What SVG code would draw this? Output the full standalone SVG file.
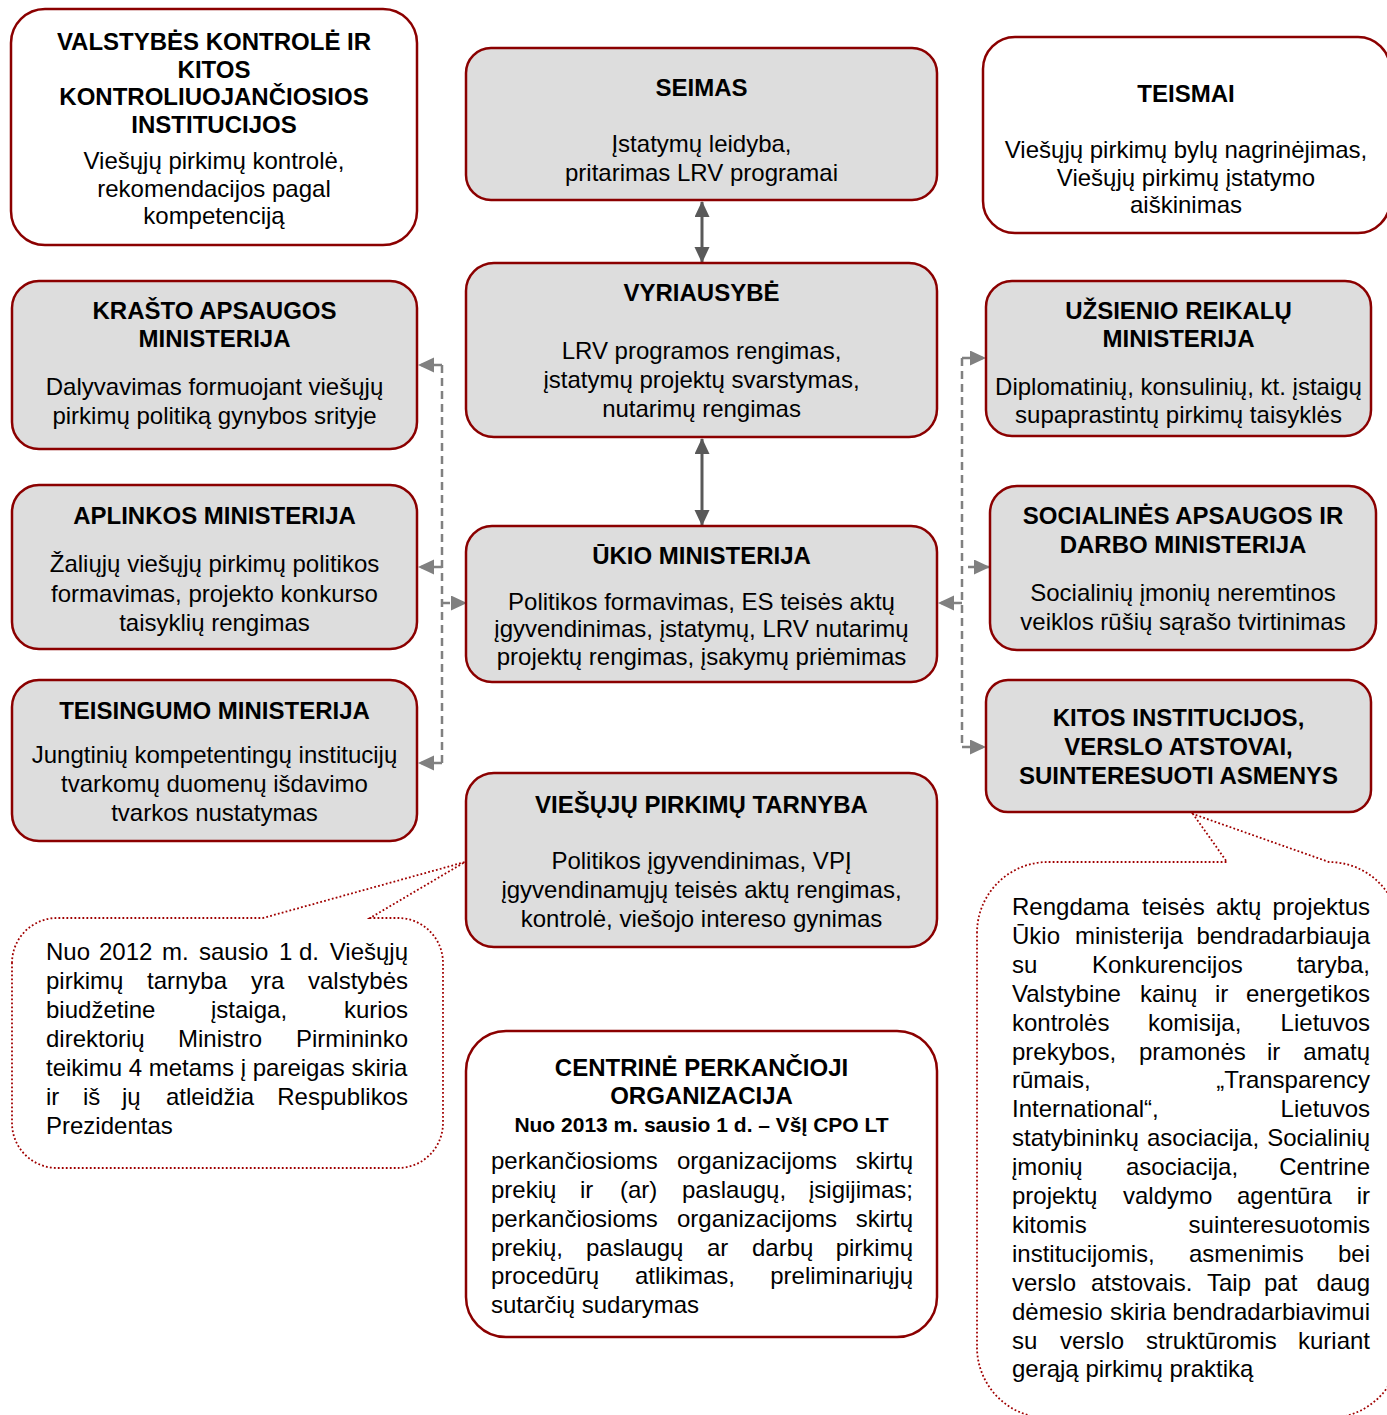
<svg xmlns="http://www.w3.org/2000/svg" width="1387" height="1415" viewBox="0 0 1387 1415">
<style>
.box{fill:#DDDDDD;stroke:#8B0000;stroke-width:2.5}
.wbox{fill:#FFFFFF;stroke:#8B0000;stroke-width:2.5}
.call{fill:#FFFFFF;stroke:#A00000;stroke-width:1.8;stroke-dasharray:1.8 2.2}
text{font-family:"Liberation Sans",Arial,sans-serif;font-size:24px;fill:#000}
.t{font-weight:bold;text-anchor:middle}
.d{text-anchor:middle}
.j{text-anchor:start}
.e{text-anchor:end}
.s21{font-size:21px}
.dash{stroke:#808080;stroke-width:2.5;stroke-dasharray:8 5;fill:none}
.solid{stroke:#595959;stroke-width:3;fill:none}
</style>
<defs>
<marker id="ag" markerUnits="userSpaceOnUse" markerWidth="18" markerHeight="18" refX="15" refY="7.5" orient="auto" viewBox="0 0 18 18">
<path d="M0,0 L16,7.5 L0,15 Z" fill="#808080"/>
</marker>
<marker id="as" markerUnits="userSpaceOnUse" markerWidth="18" markerHeight="18" refX="15" refY="7.5" orient="auto-start-reverse" viewBox="0 0 18 18">
<path d="M0,0 L16,7.5 L0,15 Z" fill="#595959"/>
</marker>
</defs>

<g id="connectors">
<path class="solid" d="M702,202 L702,262" marker-start="url(#as)" marker-end="url(#as)"/>
<path class="solid" d="M702,439 L702,525" marker-start="url(#as)" marker-end="url(#as)"/>
<path class="dash" d="M442,365 L442,763"/>
<path class="dash" d="M442,365 L419,365" marker-end="url(#ag)"/>
<path class="dash" d="M442,567 L419,567" marker-end="url(#ag)"/>
<path class="dash" d="M442,763 L419,763" marker-end="url(#ag)"/>
<path class="dash" d="M442,603 L466,603" marker-end="url(#ag)"/>
<path class="dash" d="M962,358 L962,747"/>
<path class="dash" d="M962,358 L985,358" marker-end="url(#ag)"/>
<path class="dash" d="M968,567 L989,567" marker-end="url(#ag)"/>
<path class="dash" d="M962,747 L985,747" marker-end="url(#ag)"/>
<path class="dash" d="M962,603 L939,603" marker-end="url(#ag)"/>
</g>

<g id="valstybes-kontrole">
<rect class="wbox" x="11" y="9" width="406" height="236" rx="34"/>
<text class="t" x="214" y="50">VALSTYBĖS KONTROLĖ IR</text>
<text class="t" x="214" y="78">KITOS</text>
<text class="t" x="214" y="105">KONTROLIUOJANČIOSIOS</text>
<text class="t" x="214" y="133">INSTITUCIJOS</text>
<text class="d" x="214" y="169">Viešųjų pirkimų kontrolė,</text>
<text class="d" x="214" y="197">rekomendacijos pagal</text>
<text class="d" x="214" y="224">kompetenciją</text>
</g>

<g id="seimas">
<rect class="box" x="466" y="48" width="471" height="152" rx="25"/>
<text class="t" x="701.5" y="96">SEIMAS</text>
<text class="d" x="701.5" y="152">Įstatymų leidyba,</text>
<text class="d" x="701.5" y="181">pritarimas LRV programai</text>
</g>

<g id="teismai">
<rect class="wbox" x="983" y="37" width="407" height="196" rx="32"/>
<text class="t" x="1186" y="102">TEISMAI</text>
<text class="d" x="1186" y="158">Viešųjų pirkimų bylų nagrinėjimas,</text>
<text class="d" x="1186" y="186">Viešųjų pirkimų įstatymo</text>
<text class="d" x="1186" y="213">aiškinimas</text>
</g>

<g id="krasto-apsaugos">
<rect class="box" x="12" y="281" width="405" height="168" rx="27"/>
<text class="t" x="214.5" y="319">KRAŠTO APSAUGOS</text>
<text class="t" x="214.5" y="347">MINISTERIJA</text>
<text class="d" x="214.5" y="395">Dalyvavimas formuojant viešųjų</text>
<text class="d" x="214.5" y="424">pirkimų politiką gynybos srityje</text>
</g>

<g id="vyriausybe">
<rect class="box" x="466" y="263" width="471" height="174" rx="28"/>
<text class="t" x="701.5" y="301">VYRIAUSYBĖ</text>
<text class="d" x="701.5" y="359">LRV programos rengimas,</text>
<text class="d" x="701.5" y="388">įstatymų projektų svarstymas,</text>
<text class="d" x="701.5" y="417">nutarimų rengimas</text>
</g>

<g id="uzsienio-reikalu">
<rect class="box" x="986" y="281" width="385" height="155" rx="26"/>
<text class="t" x="1178.5" y="319">UŽSIENIO REIKALŲ</text>
<text class="t" x="1178.5" y="347">MINISTERIJA</text>
<text class="d" x="1178.5" y="395">Diplomatinių, konsulinių, kt. įstaigų</text>
<text class="d" x="1178.5" y="423">supaprastintų pirkimų taisyklės</text>
</g>

<g id="aplinkos">
<rect class="box" x="12" y="485" width="405" height="164" rx="27"/>
<text class="t" x="214.5" y="524">APLINKOS MINISTERIJA</text>
<text class="d" x="214.5" y="572">Žaliųjų viešųjų pirkimų politikos</text>
<text class="d" x="214.5" y="602">formavimas, projekto konkurso</text>
<text class="d" x="214.5" y="631">taisyklių rengimas</text>
</g>

<g id="ukio">
<rect class="box" x="466" y="526" width="471" height="156" rx="26"/>
<text class="t" x="701.5" y="564">ŪKIO MINISTERIJA</text>
<text class="d" x="701.5" y="610">Politikos formavimas, ES teisės aktų</text>
<text class="d" x="701.5" y="637">įgyvendinimas, įstatymų, LRV nutarimų</text>
<text class="d" x="701.5" y="665">projektų rengimas, įsakymų priėmimas</text>
</g>

<g id="socialines-apsaugos">
<rect class="box" x="990" y="486" width="386" height="164" rx="27"/>
<text class="t" x="1183" y="524">SOCIALINĖS APSAUGOS IR</text>
<text class="t" x="1183" y="553">DARBO MINISTERIJA</text>
<text class="d" x="1183" y="601">Socialinių įmonių neremtinos</text>
<text class="d" x="1183" y="630">veiklos rūšių sąrašo tvirtinimas</text>
</g>

<g id="teisingumo">
<rect class="box" x="12" y="680" width="405" height="161" rx="27"/>
<text class="t" x="214.5" y="719">TEISINGUMO MINISTERIJA</text>
<text class="d" x="214.5" y="763">Jungtinių kompetentingų institucijų</text>
<text class="d" x="214.5" y="792">tvarkomų duomenų išdavimo</text>
<text class="d" x="214.5" y="821">tvarkos nustatymas</text>
</g>

<g id="kitos-institucijos">
<rect class="box" x="986" y="680" width="385" height="132" rx="22"/>
<text class="t" x="1178.5" y="726">KITOS INSTITUCIJOS,</text>
<text class="t" x="1178.5" y="755">VERSLO ATSTOVAI,</text>
<text class="t" x="1178.5" y="784">SUINTERESUOTI ASMENYS</text>
</g>

<g id="vpt">
<rect class="box" x="466" y="773" width="471" height="174" rx="28"/>
<text class="t" x="701.5" y="813">VIEŠŲJŲ PIRKIMŲ TARNYBA</text>
<text class="d" x="701.5" y="869">Politikos įgyvendinimas, VPĮ</text>
<text class="d" x="701.5" y="898">įgyvendinamųjų teisės aktų rengimas,</text>
<text class="d" x="701.5" y="927">kontrolė, viešojo intereso gynimas</text>
</g>

<g id="vpt-note">
<path class="call" d="M12,963 A45,45 0 0 1 57,918 L263,918 L465,862 L370,918 L398,918 A45,45 0 0 1 443,963 L443,1123 A45,45 0 0 1 398,1168 L57,1168 A45,45 0 0 1 12,1123 Z"/>
<text class="j" y="959.5"><tspan x="46">Nuo</tspan><tspan x="99">2012</tspan><tspan x="162">m.</tspan><tspan x="199">sausio</tspan><tspan x="279">1</tspan><tspan x="299">d.</tspan><tspan class="e" x="408">Viešųjų</tspan></text>
<text class="j" y="988.6"><tspan x="46">pirkimų</tspan><tspan x="147">tarnyba</tspan><tspan x="251">yra</tspan><tspan class="e" x="408">valstybės</tspan></text>
<text class="j" y="1017.7"><tspan x="46">biudžetine</tspan><tspan x="211">įstaiga,</tspan><tspan class="e" x="408">kurios</tspan></text>
<text class="j" y="1046.8"><tspan x="46">direktorių</tspan><tspan x="178">Ministro</tspan><tspan class="e" x="408">Pirmininko</tspan></text>
<text class="j" x="46" y="1075.9">teikimu 4 metams į pareigas skiria</text>
<text class="j" y="1105"><tspan x="46">ir</tspan><tspan x="83">iš</tspan><tspan x="122">jų</tspan><tspan x="166">atleidžia</tspan><tspan class="e" x="408">Respublikos</tspan></text>
<text class="j" x="46" y="1134.1">Prezidentas</text>
</g>

<g id="cpo">
<rect class="wbox" x="466" y="1031" width="471" height="306" rx="40"/>
<text class="t" x="701.5" y="1076">CENTRINĖ PERKANČIOJI</text>
<text class="t" x="701.5" y="1104">ORGANIZACIJA</text>
<text class="t s21" x="701.5" y="1132">Nuo 2013 m. sausio 1 d. – VšĮ CPO LT</text>
<text class="j" y="1169"><tspan x="491">perkančiosioms</tspan><tspan x="677">organizacijoms</tspan><tspan class="e" x="913">skirtų</tspan></text>
<text class="j" y="1198"><tspan x="491">prekių</tspan><tspan x="580">ir</tspan><tspan x="620">(ar)</tspan><tspan x="682">paslaugų,</tspan><tspan class="e" x="913">įsigijimas;</tspan></text>
<text class="j" y="1227"><tspan x="491">perkančiosioms</tspan><tspan x="677">organizacijoms</tspan><tspan class="e" x="913">skirtų</tspan></text>
<text class="j" y="1256"><tspan x="491">prekių,</tspan><tspan x="586">paslaugų</tspan><tspan x="707">ar</tspan><tspan x="752">darbų</tspan><tspan class="e" x="913">pirkimų</tspan></text>
<text class="j" y="1284"><tspan x="491">procedūrų</tspan><tspan x="635">atlikimas,</tspan><tspan class="e" x="913">preliminariųjų</tspan></text>
<text class="j" x="491" y="1313">sutarčių sudarymas</text>
</g>

<g id="kitos-note">
<path class="call" d="M977,933 A71,71 0 0 1 1048,862 L1227,862 L1193,814 L1329,862 A71,71 0 0 1 1400,933 L1400,1347 A71,71 0 0 1 1329,1418 L1048,1418 A71,71 0 0 1 977,1347 Z"/>
<text class="j" y="915"><tspan x="1012">Rengdama</tspan><tspan x="1142">teisės</tspan><tspan x="1216">aktų</tspan><tspan class="e" x="1370">projektus</tspan></text>
<text class="j" y="943.9"><tspan x="1012">Ūkio</tspan><tspan x="1075">ministerija</tspan><tspan class="e" x="1370">bendradarbiauja</tspan></text>
<text class="j" y="972.8"><tspan x="1012">su</tspan><tspan x="1092">Konkurencijos</tspan><tspan class="e" x="1370">taryba,</tspan></text>
<text class="j" y="1001.7"><tspan x="1012">Valstybine</tspan><tspan x="1140">kainų</tspan><tspan x="1215">ir</tspan><tspan class="e" x="1370">energetikos</tspan></text>
<text class="j" y="1030.6"><tspan x="1012">kontrolės</tspan><tspan x="1148">komisija,</tspan><tspan class="e" x="1370">Lietuvos</tspan></text>
<text class="j" y="1059.5"><tspan x="1012">prekybos,</tspan><tspan x="1139">pramonės</tspan><tspan x="1267">ir</tspan><tspan class="e" x="1370">amatų</tspan></text>
<text class="j" y="1088.4"><tspan x="1012">rūmais,</tspan><tspan class="e" x="1370">„Transparency</tspan></text>
<text class="j" y="1117.3"><tspan x="1012">International“,</tspan><tspan class="e" x="1370">Lietuvos</tspan></text>
<text class="j" y="1146.2"><tspan x="1012">statybininkų</tspan><tspan x="1147">asociacija,</tspan><tspan class="e" x="1370">Socialinių</tspan></text>
<text class="j" y="1175.1"><tspan x="1012">įmonių</tspan><tspan x="1126">asociacija,</tspan><tspan class="e" x="1370">Centrine</tspan></text>
<text class="j" y="1204"><tspan x="1012">projektų</tspan><tspan x="1123">valdymo</tspan><tspan x="1237">agentūra</tspan><tspan class="e" x="1370">ir</tspan></text>
<text class="j" y="1232.9"><tspan x="1012">kitomis</tspan><tspan class="e" x="1370">suinteresuotomis</tspan></text>
<text class="j" y="1261.8"><tspan x="1012">institucijomis,</tspan><tspan x="1189">asmenimis</tspan><tspan class="e" x="1370">bei</tspan></text>
<text class="j" y="1290.7"><tspan x="1012">verslo</tspan><tspan x="1091">atstovais.</tspan><tspan x="1207">Taip</tspan><tspan x="1264">pat</tspan><tspan class="e" x="1370">daug</tspan></text>
<text class="j" y="1319.6"><tspan x="1012">dėmesio</tspan><tspan x="1110">skiria</tspan><tspan class="e" x="1370">bendradarbiavimui</tspan></text>
<text class="j" y="1348.5"><tspan x="1012">su</tspan><tspan x="1060">verslo</tspan><tspan x="1146">struktūromis</tspan><tspan class="e" x="1370">kuriant</tspan></text>
<text class="j" x="1012" y="1377.4">gerąją pirkimų praktiką</text>
</g>
</svg>
